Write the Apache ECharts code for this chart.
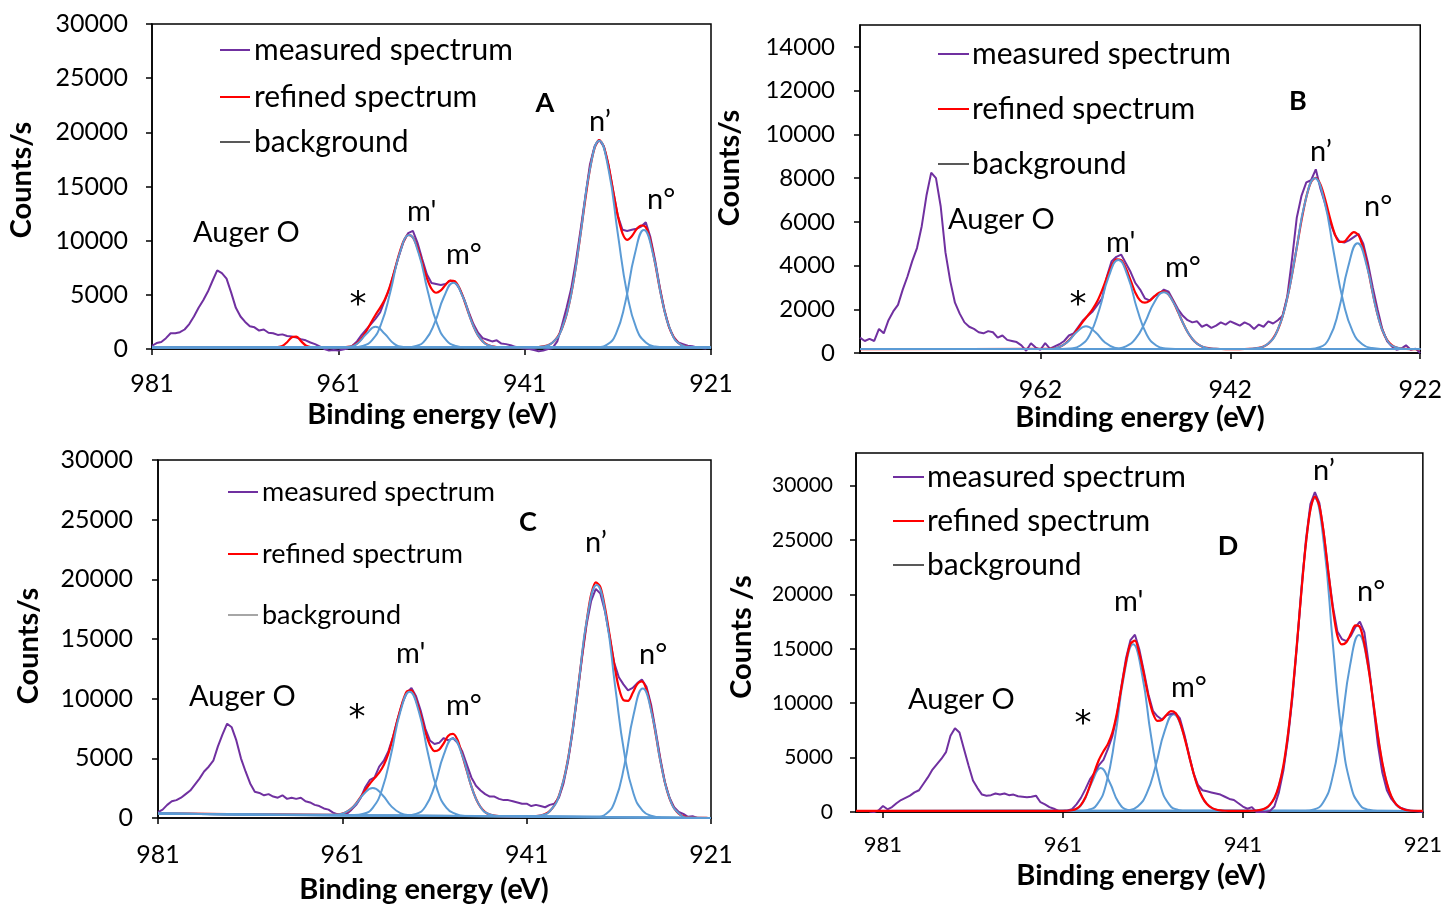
<!DOCTYPE html>
<html><head><meta charset="utf-8">
<script src="https://cdn.jsdelivr.net/npm/echarts@6/dist/echarts.min.js"></script>
<style>html,body{margin:0;padding:0;background:#fff}#c{width:1445px;height:906px}</style>
</head><body><div id="c"></div>
<script>
// ---------------- DATA (energies in eV, counts/s) ----------------
const STEP = 0.5; // measured/refined sampling step (eV), listed from high to low energy

// Panel A
const measuredA_E0 = 981;
const measuredA = [
 300,550,650,1000,1450,1450,1550,1800,2300,3000,
 3800,4500,5300,6300,7250,7000,6500,5200,3800,3000,
 2500,2100,2000,1700,1800,1500,1450,1300,1350,1200,
 1150,1050,900,800,600,450,250,0,-150,-100,
 -150,-50,50,300,700,1300,1800,2300,2800,3400,
 4500,5600,7100,8600,9900,10700,10900,9800,8300,6900,
 6100,6000,5900,6000,6300,6200,5600,4600,3400,2300,
 1500,1000,850,700,800,500,450,350,200,100,
 50,0,-100,-200,-150,0,100,700,2200,3800,
 5600,8100,11000,14000,17000,18700,19300,18700,17000,14600,
 12300,11000,10900,11000,11100,11300,11700,10300,8200,5700,
 3600,2000,1100,600,450,300,250,150,100,50,
 null];
const refinedA_E0 = 968;
const refinedA = [
 150,169,281,628,1090,1150,724,328,180,150,
 150,150,150,150,150,158,190,285,520,968,
 1641,2423,3158,3822,4594,5691,7138,8687,9943,10541,
 10313,9342,7945,6554,5563,5193,5408,5914,6309,6250,
 5611,4523,3265,2123,1258,703,395,246,183,160,
 150,150,150,150,150,155,162,184,236,354,
 598,1065,1881,3186,5092,7621,10625,13765,16578,18541,
 19273,18657,16918,14562,12279,10670,10077,10415,11050,11400,
 11250,9991,7911,5604,3558,2041,1080,557,308,204,
 167,154,150,150,150];
const backgroundA_E = [981, 921];
const backgroundA = [150, 150];
// fitted components (step 1 eV, from high to low energy)
const starA_E0 = 961,    starA   = [150,185,475,1376,2060,1376,475,185,150];
const mPrimeA_E0 = 959.4, mPrimeA = [170,286,799,2330,5340,8880,10530,8880,5340,2330,799,286,170];
const mDegA_E0 = 953.65,  mDegA   = [165,279,840,2437,4848,6120,4848,2437,840,279,165];
const nPrimeA_E0 = 940,   nPrimeA = [161,236,598,1881,5092,10625,16578,19230,16578,10625,5092,1881,598,236,161];
const nDegA_E0 = 933.2,   nDegA   = [177,384,1402,4302,8681,10990,8681,4302,1402,384,177];

// Panel B
const measuredB_E0 = 981;
const measuredB = [
 700,550,650,550,1100,900,1500,1900,2200,2900,
 3500,4200,4800,5800,7200,8250,8000,6700,4600,3300,
 2300,1800,1400,1200,1100,950,900,1000,950,700,
 800,600,550,500,350,100,450,250,150,450,
 200,300,400,550,800,900,1200,1500,1700,1900,
 2200,2500,3500,4200,4400,4500,4100,3700,3200,2900,
 2500,2400,2600,2700,2900,2800,2400,2000,1700,1500,
 1400,1450,1200,1300,1150,1250,1400,1300,1450,1350,
 1250,1400,1300,1100,1300,1200,1450,1350,1500,1700,
 2600,4300,6200,7200,7800,7900,8400,7500,6800,6000,
 5400,5100,5050,5150,5300,5450,5000,4100,3000,2000,
 1100,550,300,150,200,350,150,200,0];
const refinedB_E0 = 961;
const refinedB = [
 192,216,275,390,580,844,1148,1446,1719,2005,
 2374,2875,3457,3984,4282,4245,3879,3318,2754,2400,
 2300,2380,2590,2754,2818,2672,2330,1869,1386,963,
 642,428,300,233,201,188,183,180,180,180,
 180,183,189,202,233,300,431,668,1065,1672,
 2523,3601,4835,6077,7138,7824,8014,7698,7003,6161,
 5450,5079,5091,5339,5530,5385,4784,3825,2740,1770,
 1052,601,359,247,202,186,181,180,180];
const backgroundB_E = [981, 922];
const backgroundB = [180, 180];
const starB_E0 = 961.2,   starB   = [187,245,484,944,1220,944,484,245,187];
const mPrimeB_E0 = 959.8, mPrimeB = [183,206,340,838,1991,3504,4250,3504,1991,838,340,206,183];
const mDegB_E0 = 955,     mDegB   = [181,201,301,643,1386,2325,2780,2325,1386,643,301,201,181];
const nPrimeB_E0 = 940.1, nPrimeB = [187,225,398,969,2330,4582,6948,7990,6948,4582,2330,969,398,225,187];
const nDegB_E0 = 933.6,   nDegB   = [188,262,669,1927,3931,5020,3931,1927,669,262,188];

// Panel C
const measuredC_E0 = 981;
const measuredC = [
 500,700,1100,1400,1500,1700,2000,2300,2800,3300,
 3900,4300,4800,6000,7000,7900,7600,6500,5000,3900,
 2900,2200,2100,1900,2000,1800,1700,1900,1600,1700,
 1600,1700,1400,1300,1100,1000,800,700,450,300,
 250,350,700,1100,1700,2600,3200,3400,4300,4800,
 5600,6800,8300,9600,10500,10900,10200,9000,7500,6500,
 6200,6300,6700,6500,6700,6300,5600,4500,3400,2700,
 2300,2000,1800,1800,1600,1500,1500,1400,1300,1200,
 1200,1000,1100,1000,900,1100,1200,1700,2900,4800,
 7300,10300,13400,16200,18200,19200,18800,17300,15200,13000,
 11800,11200,10700,10900,11300,11600,11000,9500,7300,5000,
 3000,1700,900,500,350,100,150,0,null,null,
 null];
const refinedC_E0 = 963;
const refinedC = [
 267,268,274,302,374,527,805,1227,1769,2354,
 2890,3345,3803,4439,5413,6747,8265,9637,10600,10700,
 9870,8617,7226,6121,5603,5725,6252,6900,7050,6550,
 5310,3961,2652,1609,907,499,292,200,162,147,
 139,136,133,130,132,137,158,211,332,579,
 1047,1854,3139,5009,7482,10430,13561,16434,18750,19750,
 19350,17625,15322,12879,10917,9873,9821,10470,11220,11446,
 10759,9164,7024,4827,2973,1637,814,368,154,63,
 27,10,6,3,0];
const backgroundC_E = [981, 921];
const backgroundC = [380, 0];
const starC_E0 = 962.7,   starC   = [267,288,451,1020,1986,2520,1973,995,413,237,204];
const mPrimeC_E0 = 959.7, mPrimeC = [245,350,855,2382,5388,8922,10570,8922,5388,2380,850,335,170];
const mDegC_E0 = 954,     mDegC   = [225,343,945,2673,5285,6660,5273,2648,907,292,162];
const nPrimeC_E0 = 940.4, nPrimeC = [140,230,650,2060,5440,11040,16930,19520,16920,11030,5420,2030,600,170,51];
const nDegC_E0 = 933.4,   nDegC   = [116,336,1451,4410,8655,10850,8655,4410,1451,330,17];

// Panel D
const measuredD_E0 = 982.5;
const measuredD = [
 50,0,150,550,250,450,800,1100,1300,1500,
 1800,2000,2600,3200,3900,4400,4900,5500,7000,7700,
 7300,5800,4300,2900,2200,1600,1500,1550,1700,1600,
 1700,1550,1600,1450,1400,1350,1400,1500,900,700,
 450,300,100,100,150,250,700,1300,2100,3000,
 3600,4300,4800,5800,7000,8900,11600,14100,15800,16300,
 14900,12900,10800,9300,8800,8500,8900,9000,9100,8600,
 7100,5300,3600,2500,2000,1900,1800,1700,1600,1400,
 1200,1100,800,500,300,450,0,0,0,100,
 500,1800,3800,6700,10500,15200,20300,25000,28300,29400,
 28400,25600,22000,18900,16600,15900,15700,16200,17000,17500,
 16500,13500,9800,6200,3600,2000,1200,700,400,250,
 150,100,50,0];
const refinedD_E0 = 961;
const refinedD = [
 103,114,159,303,659,1357,2427,3686,4799,5583,
 6264,7323,9104,11448,13764,15450,15750,14541,12651,10613,
 9073,8376,8454,8920,9269,9097,8256,6863,5211,3612,
 2292,1345,742,400,228,150,117,106,100,100,
 100,100,113,137,200,347,663,1292,2421,4286,
 7082,10857,15422,20274,24670,27784,28991,28117,25521,22025,
 18636,16204,15400,15600,16400,17150,17000,15428,13010,10022,
 7043,4517,2653,1441,742,378,210,139,113,103,
 100];
const backgroundD_E = [984, 921];
const backgroundD = [100, 100];
const starD_E0 = 960.8,   starD   = [106,198,864,2715,4040,2715,864,198,106];
const mPrimeD_E0 = 959.2, mPrimeD = [111,197,701,2579,6922,12620,15430,12620,6922,2579,701,197,111];
const mDegD_E0 = 954.7,   mDegD   = [109,173,512,1682,4225,7434,8990,7434,4225,1682,512,173,109];
const nPrimeD_E0 = 940,   nPrimeD = [114,200,663,2421,7082,15422,24650,28830,24650,15422,7082,2421,663,200,114];
const nDegD_E0 = 934.1,   nDegD   = [116,233,850,2976,7598,13432,16260,13432,7598,2976,850,233,116];

// axis tick labels
const xTicksA = [921, 941, 961, 981];
const xTicksB = [922, 942, 962];
const xTicksC = [921, 941, 961, 981];
const xTicksD = [921, 941, 961, 981];
const yTicks30k = [0, 5000, 10000, 15000, 20000, 25000, 30000];
const yTicksB = [0, 2000, 4000, 6000, 8000, 10000, 12000, 14000];

const legendNames = ['measured spectrum', 'refined spectrum', 'background'];
const peakLabels = ['Auger O', "m'", 'm°', 'n’', 'n°', '*'];

// ---------------- LAYOUT / STYLE ----------------
const FONT = 'Lato, "Open Sans", sans-serif';
const PURPLE = '#7030A0', RED = '#FF0000', BLUE = '#5B9BD5';

const panels = [
 { grid:{left:152, top:24, width:559, height:325},
   x:{min:921, max:981, ticks:xTicksA, fs:25, margin:22},
   y:{max:30000, interval:5000, ticks:yTicks30k, fs:25, margin:24},
   meas:[measuredA_E0, measuredA], ref:[refinedA_E0, refinedA], bg:[backgroundA_E, backgroundA], bgColor:'#595959',
   comps:[[starA_E0,starA],[mPrimeA_E0,mPrimeA],[mDegA_E0,mDegA],[nPrimeA_E0,nPrimeA],[nDegA_E0,nDegA]], compsOnTop:true,
   legend:{x1:220, x2:250, tx:254, ys:[50,97,142], fs:30},
   letter:['A',545,103],
   notes:[[193,233],[407,212],[446,255],[589,122],[647,200],[358,306]],
   ytitle:['Counts/s',22,180], xtitle:[432,415] },
 { grid:{left:860, top:25, width:562, height:328},
   x:{min:922, max:981, ticks:xTicksB, fs:25, margin:24},
   y:{max:15000, interval:2000, ticks:yTicksB, fs:24, margin:25},
   meas:[measuredB_E0, measuredB], ref:[refinedB_E0, refinedB], bg:[backgroundB_E, backgroundB], bgColor:'#595959',
   comps:[[starB_E0,starB],[mPrimeB_E0,mPrimeB],[mDegB_E0,mDegB],[nPrimeB_E0,nPrimeB],[nDegB_E0,nDegB]], compsOnTop:true,
   legend:{x1:938, x2:969, tx:972, ys:[54,109,164], fs:30},
   letter:['B',1298,101],
   notes:[[948,220],[1106,243],[1165,268],[1310,152],[1364,207],[1078,306]],
   ytitle:['Counts/s',730,168], xtitle:[1140,418] },
 { grid:{left:158, top:460, width:553, height:358},
   x:{min:921, max:981, ticks:xTicksC, fs:25, margin:24},
   y:{max:30000, interval:5000, ticks:yTicks30k, fs:25, margin:25},
   meas:[measuredC_E0, measuredC], ref:[refinedC_E0, refinedC], bg:[backgroundC_E, backgroundC], bgColor:'#A6A6A6',
   comps:[[starC_E0,starC],[mPrimeC_E0,mPrimeC],[mDegC_E0,mDegC],[nPrimeC_E0,nPrimeC],[nDegC_E0,nDegC]], compsOnTop:true,
   legend:{x1:228, x2:258, tx:262, ys:[492,554,615], fs:27},
   letter:['C',528,522],
   notes:[[189,697],[396,654],[446,706],[585,543],[639,655],[357,719]],
   ytitle:['Counts/s',29,646], xtitle:[424,890] },
 { grid:{left:856, top:453, width:570, height:359},
   x:{min:921, max:984, ticks:xTicksD, fs:22, margin:22},
   y:{max:33000, interval:5000, ticks:yTicks30k, fs:21, margin:23},
   meas:[measuredD_E0, measuredD], ref:[refinedD_E0, refinedD], bg:[backgroundD_E, backgroundD], bgColor:'#595959',
   comps:[[starD_E0,starD],[mPrimeD_E0,mPrimeD],[mDegD_E0,mDegD],[nPrimeD_E0,nPrimeD],[nDegD_E0,nDegD]], compsOnTop:false,
   legend:{x1:893, x2:924, tx:927, ys:[477,521,565], fs:30},
   letter:['D',1228,546],
   notes:[[908,700],[1114,602],[1171,688],[1313,471],[1357,592],[1083,725]],
   ytitle:['Counts /s',742,637], xtitle:[1141,876] }
];

// ---------------- BUILD OPTION ----------------
const grids = [], xAxes = [], yAxes = [], series = [], graphics = [];
function txt(t, x, y, fs, weight, align, rot, family) {
  const g = { type:'text', x, y, z:100,
    style:{ text:t, fontSize:fs, fontFamily:family||FONT, fontWeight:weight||'normal', fill:'#000',
            align:align||'left', verticalAlign:'middle', textAlign:align||'left', textVerticalAlign:'middle' } };
  if (rot) g.rotation = rot;
  return g;
}
panels.forEach((p, gi) => {
  grids.push(Object.assign({ show:true, borderColor:'#000', borderWidth:1.5, backgroundColor:'transparent' }, p.grid));
  xAxes.push({ type:'value', gridIndex:gi, min:p.x.min, max:p.x.max, interval:20, inverse:true,
    axisLine:{ show:true, onZero:false, lineStyle:{ color:'#000', width:1.5 } },
    axisTick:{ show:true, inside:false, length:6, customValues:p.x.ticks, lineStyle:{ color:'#000', width:1.5 } },
    axisLabel:{ customValues:p.x.ticks, fontSize:p.x.fs, fontFamily:FONT, color:'#000', margin:p.x.margin, formatter:v=>String(v) },
    splitLine:{ show:false } });
  yAxes.push({ type:'value', gridIndex:gi, min:0, max:p.y.max, interval:p.y.interval,
    axisLine:{ show:true, onZero:false, lineStyle:{ color:'#000', width:1.5 } },
    axisTick:{ show:true, inside:false, length:6, customValues:p.y.ticks, lineStyle:{ color:'#000', width:1.5 } },
    axisLabel:{ customValues:p.y.ticks, fontSize:p.y.fs, fontFamily:FONT, color:'#000', margin:p.y.margin, formatter:v=>String(v) },
    splitLine:{ show:false } });

  const bgE = p.bg[0], bgV = p.bg[1];
  const bgPts = bgE.map((e,i)=>[e, bgV[i]]);
  const first = bgPts[0], last = bgPts[bgPts.length-1];
  const base = { type:'line', xAxisIndex:gi, yAxisIndex:gi, showSymbol:false, symbol:'none', silent:true };

  series.push(Object.assign({}, base, { name:'background', data:bgPts, z:2,
    lineStyle:{ color:p.bgColor, width:2 } }));

  p.comps.forEach((c, ci) => {
    const pts = [first];
    c[1].forEach((v,i)=>pts.push([+(c[0]-i).toFixed(3), v]));
    pts.push(last);
    series.push(Object.assign({}, base, { name:'component'+ci, data:pts, smooth:0.5, z:p.compsOnTop?6:3,
      lineStyle:{ color:BLUE, width:2 } }));
  });

  const mPts = p.meas[1].map((v,i)=>[+(p.meas[0]-i*STEP).toFixed(3), v]);
  series.push(Object.assign({}, base, { name:'measured spectrum', data:mPts, clip:false, z:4,
    lineStyle:{ color:PURPLE, width:2 } }));

  const rPts = [first].concat(p.ref[1].map((v,i)=>[+(p.ref[0]-i*STEP).toFixed(3), v]));
  if (rPts[rPts.length-1][0] > last[0]) rPts.push(last);
  series.push(Object.assign({}, base, { name:'refined spectrum', data:rPts, smooth:0.3, z:5,
    lineStyle:{ color:RED, width:2.2 } }));

  // legend (drawn)
  const L = p.legend;
  [PURPLE, RED, p.bgColor].forEach((col, i) => {
    graphics.push({ type:'line', z:100, shape:{ x1:L.x1, y1:L.ys[i], x2:L.x2, y2:L.ys[i] }, style:{ stroke:col, lineWidth:2 } });
    graphics.push(txt(legendNames[i], L.tx, L.ys[i], L.fs));
  });
  // peak labels
  p.notes.forEach((n, i) => {
    if (i === 5) graphics.push(txt(peakLabels[i], n[0], n[1], 34, 'normal', 'center', 0, '"DejaVu Sans", sans-serif'));
    else graphics.push(txt(peakLabels[i], n[0], n[1], 29));
  });
  graphics.push(txt(p.letter[0], p.letter[1], p.letter[2], 27, 'bold', 'center'));
  graphics.push(txt(p.ytitle[0], p.ytitle[1], p.ytitle[2], 29, 'bold', 'center', Math.PI/2));
  graphics.push(txt('Binding energy (eV)', p.xtitle[0], p.xtitle[1], 29, 'bold', 'center'));
});

const chart = echarts.init(document.getElementById('c'), null, { renderer:'canvas' });
chart.setOption({
  animation:false,
  backgroundColor:'#fff',
  grid:grids, xAxis:xAxes, yAxis:yAxes, series:series, graphic:graphics
});
</script></body></html>
